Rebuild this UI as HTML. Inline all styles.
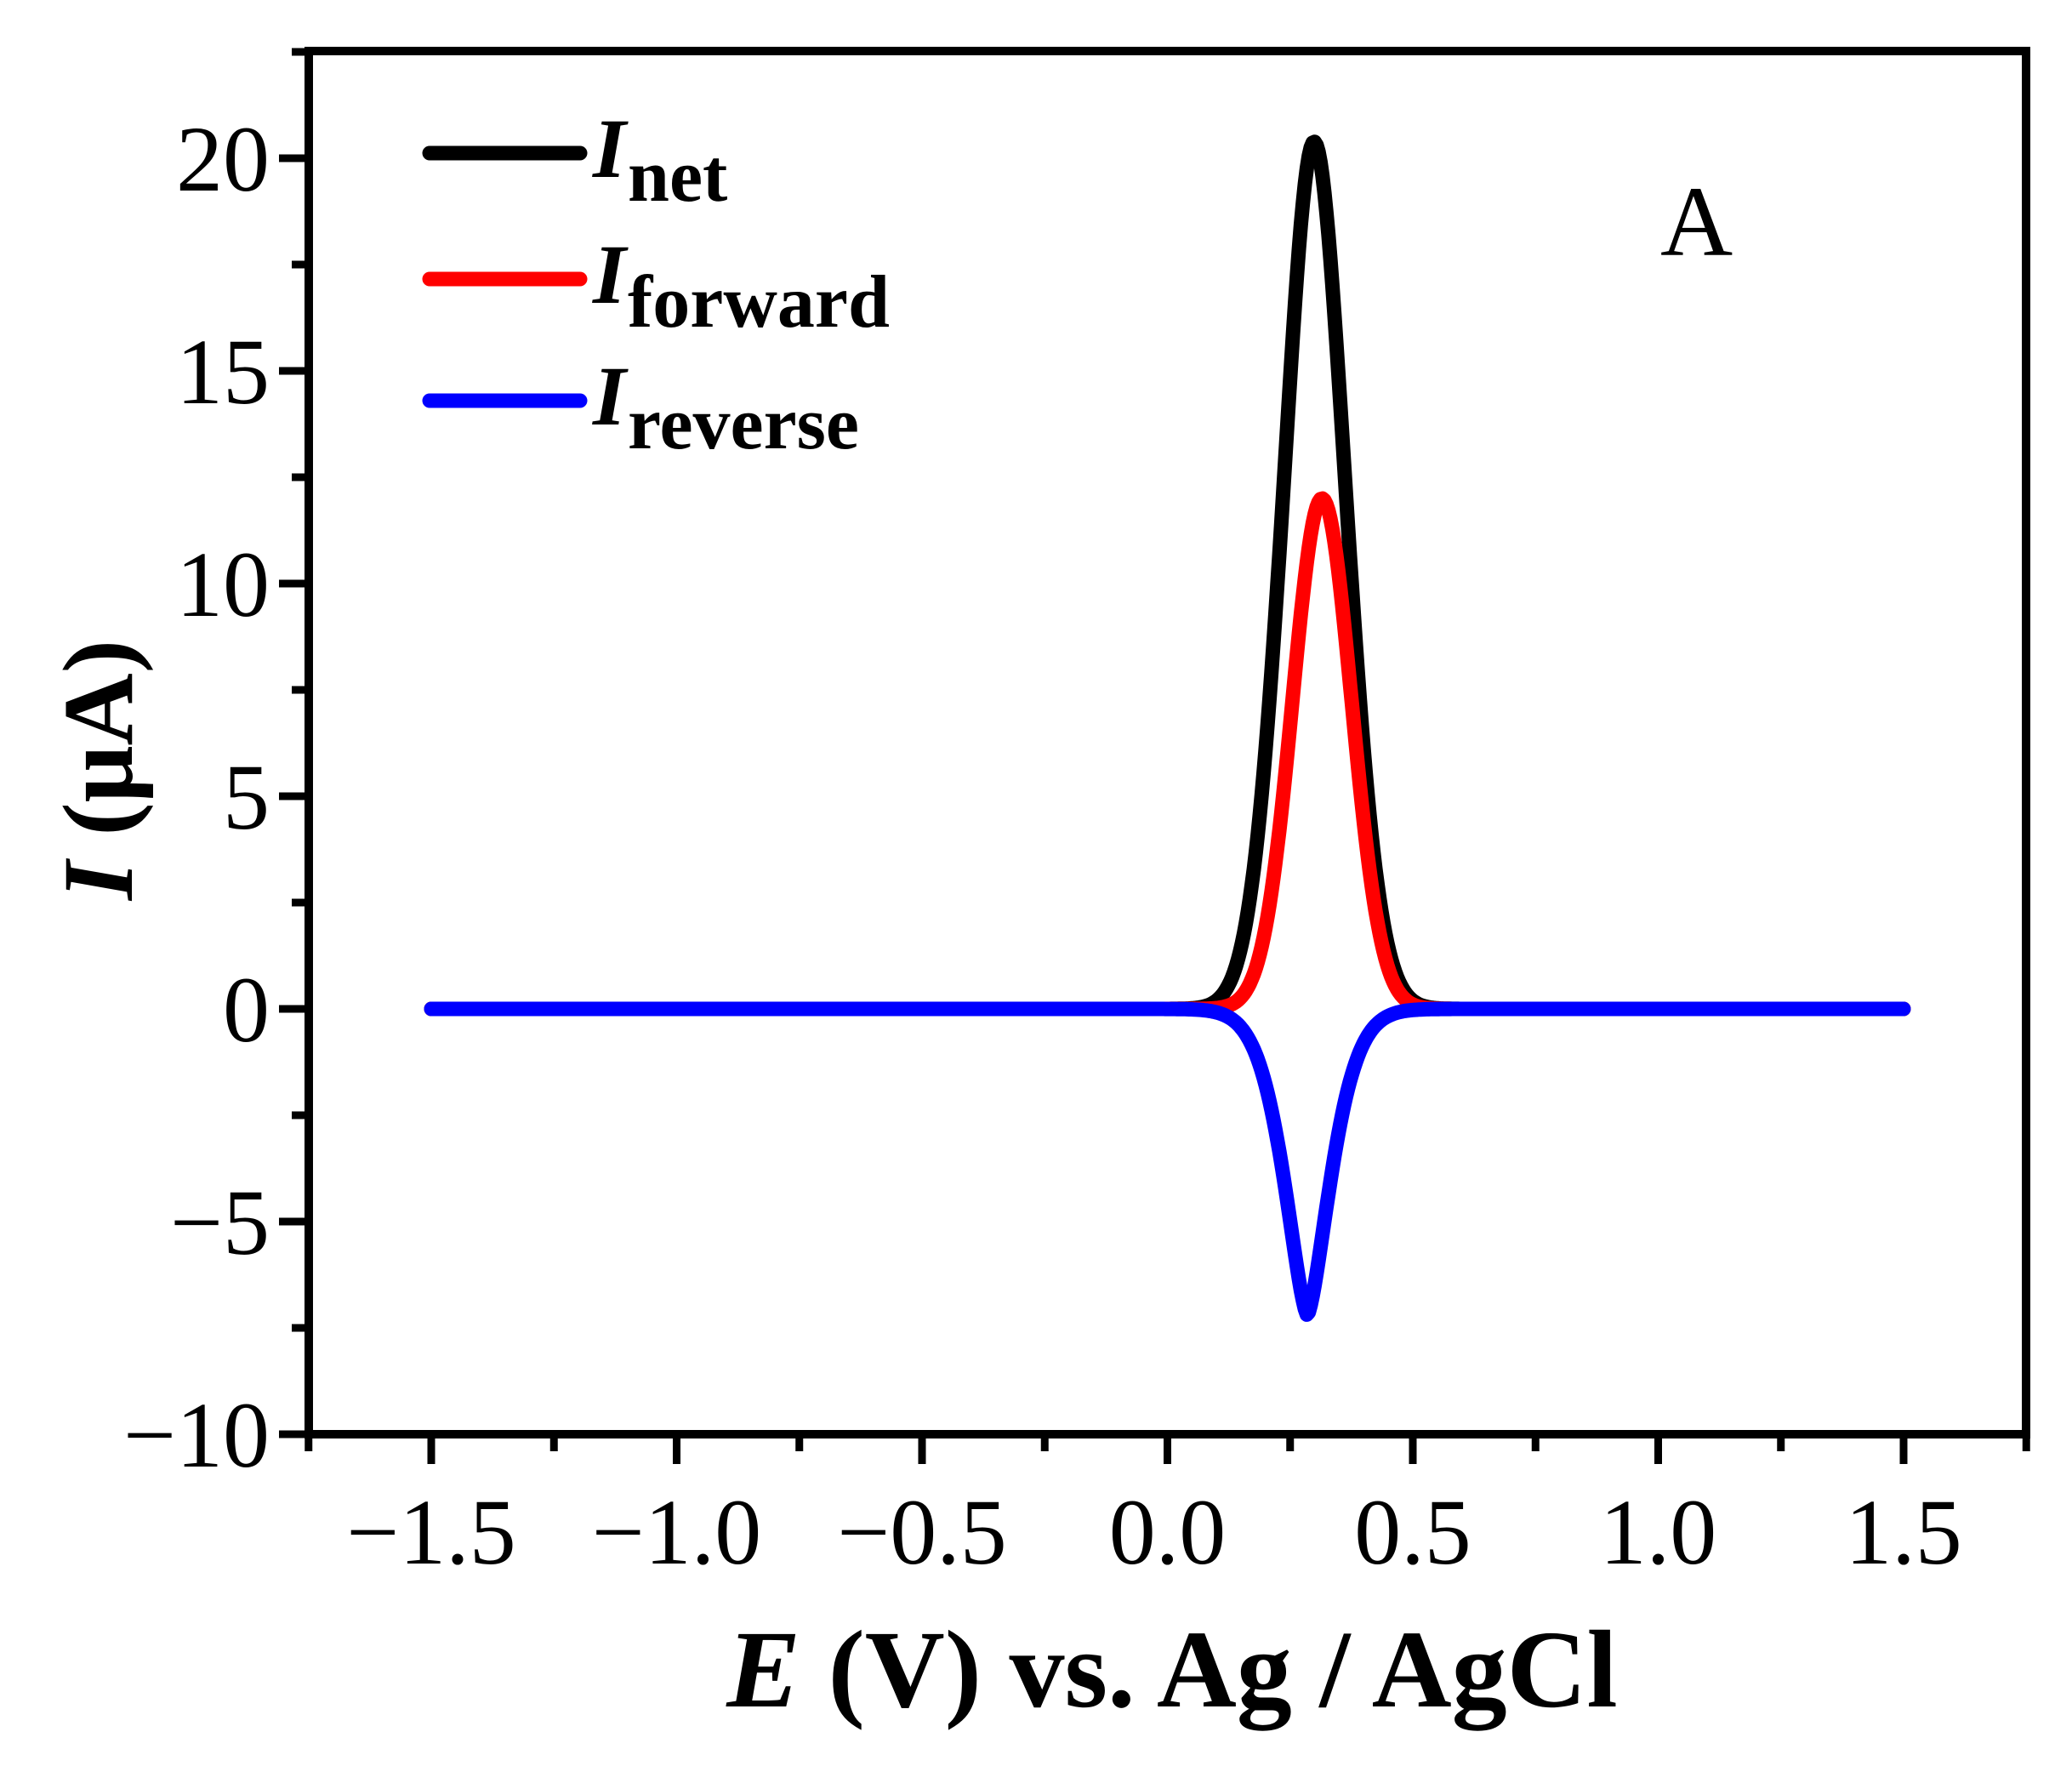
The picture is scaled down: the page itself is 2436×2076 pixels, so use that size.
<!DOCTYPE html>
<html><head><meta charset="utf-8"><style>
html,body{margin:0;padding:0;background:#fff}
svg{display:block}
text{font-family:"Liberation Serif",serif}
</style></head><body>
<svg id="s" width="2436" height="2076" viewBox="0 0 2436 2076" xmlns="http://www.w3.org/2000/svg">
<rect width="2436" height="2076" fill="#fff"/>
<g id="ticks" stroke="#000" stroke-width="9"></g>
<g id="curves" fill="none" stroke-width="17" stroke-linejoin="round" stroke-linecap="round"></g>
<rect x="363" y="60" width="2019" height="1626" fill="none" stroke="#000" stroke-width="10"/>
<g font-size="110" text-anchor="end" id="ylab"></g>
<g font-size="110" text-anchor="middle" id="xlab"></g>
<text x="1952" y="300" font-size="118">A</text>
<g stroke-width="17" stroke-linecap="round">
<line x1="505" y1="180" x2="682" y2="180" stroke="#000"/>
<line x1="505" y1="328" x2="682" y2="328" stroke="#f00"/>
<line x1="505" y1="471" x2="682" y2="471" stroke="#00f"/>
</g>
<g font-size="100">
<text x="697" y="208" font-style="italic" font-weight="bold">I</text><text x="738" y="236" font-weight="bold" font-size="88">net</text>
<text x="697" y="356" font-style="italic" font-weight="bold">I</text><text x="738" y="384" font-weight="bold" font-size="88">forward</text>
<text x="697" y="499" font-style="italic" font-weight="bold">I</text><text x="738" y="527" font-weight="bold" font-size="88">reverse</text>
</g>
<text x="1378" y="2006" font-size="130" font-weight="bold" text-anchor="middle"><tspan font-style="italic">E</tspan> (V) vs. Ag / AgCl</text>
<text transform="translate(155,905) rotate(-90)" font-size="118" font-weight="bold" text-anchor="middle"><tspan font-style="italic">I</tspan> (μA)</text>
</svg>
<script>
var NS="http://www.w3.org/2000/svg";
function X(v){return 1372.5+v*577;}
function Y(v){return 1186-v*50;}
function el(p,t,a,txt){var e=document.createElementNS(NS,t);for(var k in a)e.setAttribute(k,a[k]);if(txt!=null)e.textContent=txt;document.getElementById(p).appendChild(e);}
for(var v=-10;v<=22.5;v+=2.5){var y=Y(v);var maj=(v%5===0);el("ticks","line",{x1:363,y1:y,x2:maj?328:343,y2:y});
 if(maj) el("ylab","text",{x:317,y:y+38},(v<0?"\u2212":"")+Math.abs(v));}
for(var i=-7;i<=7;i++){var v=i*0.25;var x=X(v);var maj=(i%2===0);
 el("ticks","line",{x1:x,y1:1686,x2:x,y2:maj?1721:1706});}
for(var i=-3;i<=3;i++){var v=i*0.5;var s=(v<0?"\u2212":"")+Math.abs(v).toFixed(1);el("xlab","text",{x:X(v),y:1838},s);}
function g(x,m,s){return Math.exp(-0.5*Math.pow((x-m)/s,2));}
function path(f,c){var d="";for(var x=-1.5;x<=1.5001;x+=0.004){d+=(d?"L":"M")+X(x).toFixed(1)+","+Y(f(x)).toFixed(1);}el("curves","path",{d:d,stroke:c});}
path(function(x){return 19.2*g(x,0.30,0.066)+1.2*g(x,0.295,0.03);},"#000");
path(function(x){return 12.0*g(x,0.315,0.06);},"#f00");
path(function(x){var s=0.052;return -7.2*Math.exp(-Math.pow(Math.abs(x-0.285)/s,1.5)/1.5);},"#00f");
</script>
</body></html>
